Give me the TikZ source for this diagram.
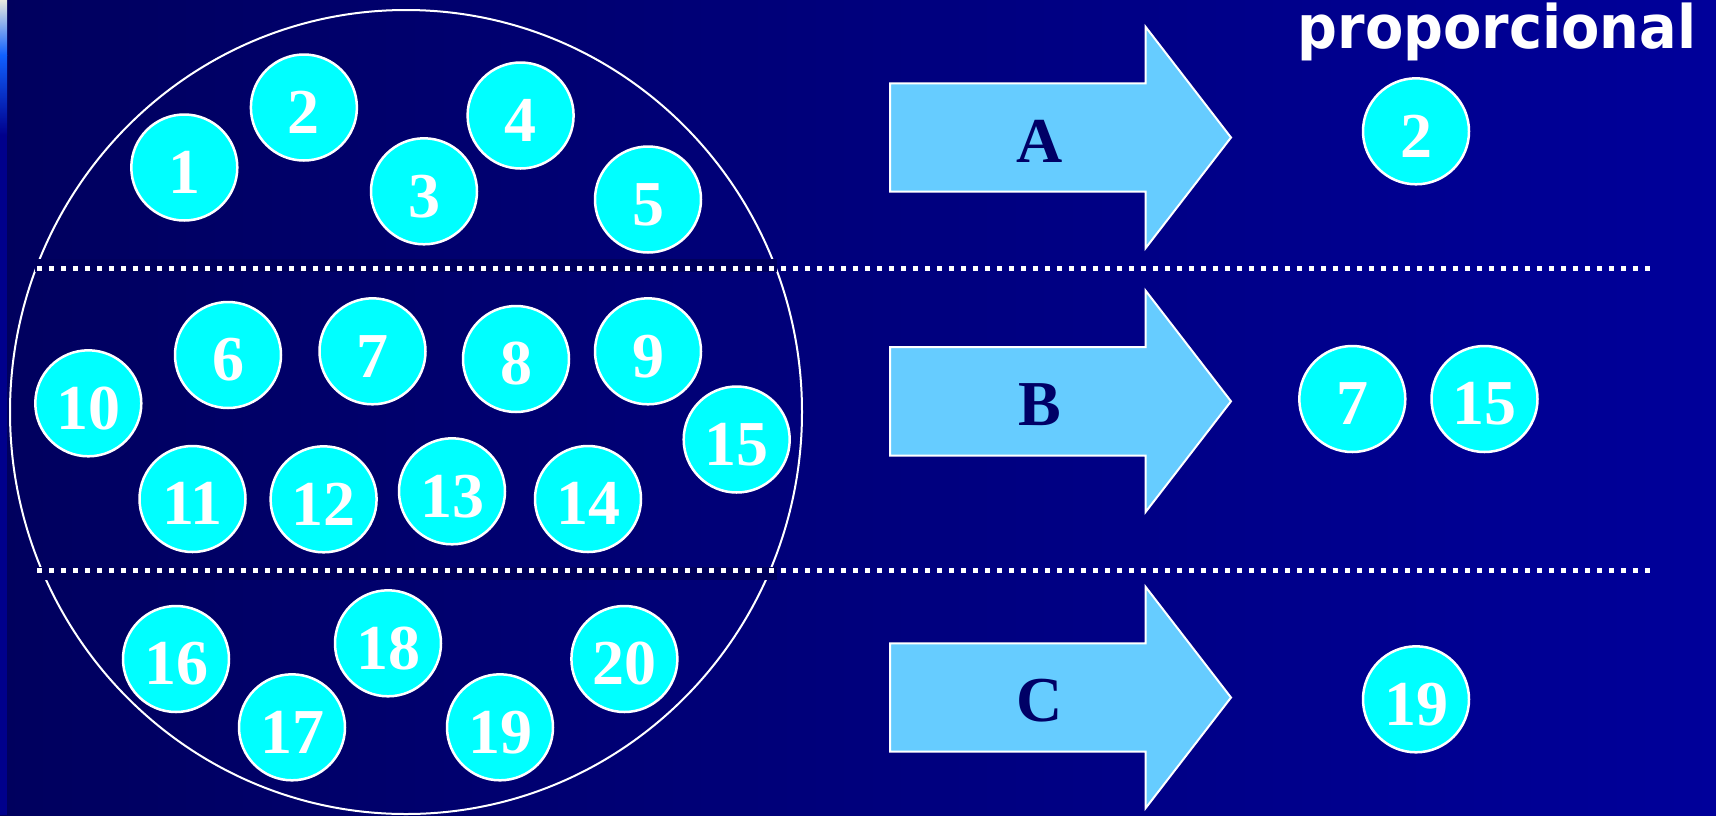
\documentclass[tikz,border=0pt]{standalone}
\usepackage{fontspec}
\setmainfont{Liberation Serif}
\newfontfamily\headfont{DejaVu Sans}[FakeStretch=0.93]
\definecolor{bgleft}{HTML}{00005E}
\definecolor{bgmid}{HTML}{00007A}
\definecolor{bgright}{HTML}{00009A}
\definecolor{bandcol}{HTML}{00005C}
\definecolor{stripbase}{HTML}{00008C}
\definecolor{stripblue}{HTML}{1060FF}
\definecolor{striptop}{HTML}{E8E8E0}
\definecolor{ballcyan}{HTML}{00FFFF}
\definecolor{arrowfill}{HTML}{66CCFF}
\definecolor{letternavy}{HTML}{000066}
\tikzset{
  ball/.style={circle, fill=ballcyan, draw=white, line width=2.5pt,
    minimum size=106pt, inner sep=0pt, text=white,
    font=\bfseries\fontsize{64}{64}\selectfont,
    text height=51.5pt, text depth=0pt},
  letter/.style={text=letternavy, inner sep=0pt,
    font=\bfseries\fontsize{64}{64}\selectfont},
  dotline/.style={white, line width=4.7pt, dash pattern=on 4.7pt off 7.3pt},
  fatarrow/.pic={
    \filldraw[fill=arrowfill, draw=white, line width=2pt]
      (0,-54.2) -- (255.5,-54.2) -- (255.5,-110.8) -- (341,0)
      -- (255.5,110.8) -- (255.5,54.2) -- (0,54.2) -- cycle;
  }
}
\begin{document}
\begin{tikzpicture}[x=1pt,y=-1pt]
\useasboundingbox (0,0) rectangle (1716,815);
\clip (0,0) rectangle (1716,815);

% background
\shade[left color=bgleft, middle color=bgmid, right color=bgright]
  (0,0) rectangle (1716,815);
% slide edge strip
\fill[stripbase] (0,0) rectangle (7,815);
\shade[top color=striptop, bottom color=stripblue] (0,0) rectangle (7,55);
\shade[top color=stripblue, bottom color=stripbase] (0,55) rectangle (7,135);

% population
\draw[white, line width=2pt] (406,412) ellipse [x radius=396, y radius=402];

% strata separators
\fill[bandcol] (35,259) rectangle (777,272);
\fill[bandcol] (36,567) rectangle (777,580);
\coordinate (d1s) at (37,268.3);
\coordinate (d1e) at (1652,268.3);
\coordinate (d2s) at (37,570.7);
\coordinate (d2e) at (1652,570.7);
\draw[dotline] (d1s) -- (d1e);
\draw[dotline] (d2s) -- (d2e);

% stratum A
\node[ball] (b1) at (184.3,167.5) {1};
\node[ball] (b2) at (303.9,107.5) {2};
\node[ball] (b3) at (424,191.3) {3};
\node[ball] (b4) at (520.6,115.5) {4};
\node[ball] (b5) at (648,199.5) {5};
% stratum B
\node[ball] (b6) at (228,355) {6};
\node[ball] (b7) at (372.5,351.3) {7};
\node[ball] (b8) at (516,359) {8};
\node[ball] (b9) at (648,351.3) {9};
\node[ball] (b10) at (88.3,403.3) {10};
\node[ball] (b11) at (192.5,499) {11};
\node[ball] (b12) at (323.6,499.3) {12};
\node[ball] (b13) at (452,491.3) {13};
\node[ball] (b14) at (588,499) {14};
\node[ball] (b15) at (736.7,439.5) {15};
% stratum C
\node[ball] (b16) at (176,659) {16};
\node[ball] (b17) at (292,727.3) {17};
\node[ball] (b18) at (388,643.3) {18};
\node[ball] (b19) at (500,727.3) {19};
\node[ball] (b20) at (624.4,659) {20};

% selection arrows
\pic at (890,137.5) {fatarrow};
\pic at (890,401.3) {fatarrow};
\pic at (890,697.5) {fatarrow};
\node[letter] (la) at (1040,141) {A};
\node[letter] (lb) at (1040,404.8) {B};
\node[letter] (lc) at (1040,701) {C};

% sample
\node[anchor=base, text=white, inner sep=0pt,
  font=\headfont\bfseries\fontsize{60}{60}\selectfont] (title) at (1497,48.3) {proporcional};
\node[ball] (r2) at (1416,131.3) {2};
\node[ball] (r7) at (1352.3,399) {7};
\node[ball] (r15) at (1484.5,399) {15};
\node[ball] (r19) at (1416,699.3) {19};
\end{tikzpicture}
\end{document}
